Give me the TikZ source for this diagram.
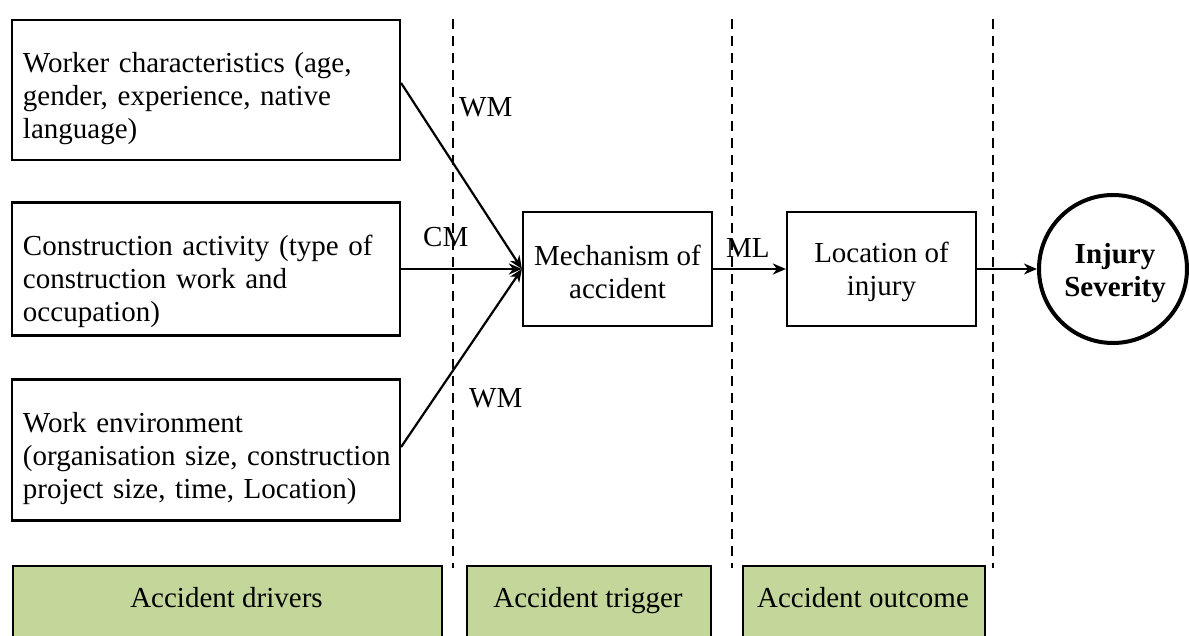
\documentclass[tikz,border=0pt]{standalone}
\usepackage{fontspec}
\setmainfont{Liberation Serif}
\usetikzlibrary{arrows.meta,calc}
\definecolor{lgreen}{HTML}{C4D79B}
\begin{document}
\begin{tikzpicture}[x=1pt,y=-1pt,
  every node/.style={font=\fontsize{29}{33}\selectfont, inner sep=0pt},
  factor/.style={draw, line width=2.2pt, minimum width=388pt},
  ftext/.style={text width=372pt, align=left},
  midbox/.style={draw, line width=2.2pt, minimum width=189pt, minimum height=114pt},
  band/.style={draw, line width=2.2pt, fill=lgreen, minimum height=85pt, anchor=north west},
  divider/.style={line width=2pt, dash pattern=on 10pt off 7pt},
  link/.style={line width=2.2pt, -{Stealth[length=13pt,width=11pt,inset=4pt]}},
  lbl/.style={anchor=west}]
\useasboundingbox (0,0) rectangle (1189,636);
% dashed dividers
\draw[divider] (453,19) -- (453,568);
\draw[divider] (732,19) -- (732,568);
\draw[divider] (993,19) -- (993,568);
% factor boxes
\node[factor, minimum height=140pt] (w) at (206,90) {};
\node[factor, minimum height=133pt] (c) at (206,269) {};
\node[factor, minimum height=141pt] (e) at (206,450) {};
\node[ftext] (wt) at (209,99) {Worker characteristics (age,\\gender, experience, native\\language)};
\node[ftext] (ct) at (209,281) {Construction activity (type of\\construction work and\\occupation)};
\node[ftext] (et) at (209,459) {Work environment\\(organisation size, construction\\project size, time, Location)};
% middle boxes
\node[midbox] (m) at (617.5,269) {};
\node[midbox] (l) at (881.5,269) {};
\node[align=center] (mt) at (617.5,272) {Mechanism of\\accident};
\node[align=center] (lt) at (881.5,272) {Location of\\injury};
\node[draw, circle, line width=4pt, minimum size=148pt] (s) at (1113,269) {};
\node[align=center, font=\fontsize{29}{33}\selectfont\bfseries] (st) at (1115,273) {Injury\\Severity};
% connectors
\draw[link] ([yshift=7pt]w.east) -- (m.west);
\draw[link] (c.east) -- (m.west);
\draw[link] ([yshift=3pt]e.east) -- (m.west);
\draw[link] (m.east) -- (l.west);
\draw[link] (l.east) -- (s.west);
% labels
\node[lbl] (wm1) at (459,107) {WM};
\node[lbl] (cm) at (423,237) {CM};
\node[lbl] (wm2) at (469,398) {WM};
\node[lbl] (ml) at (726,248) {ML};
% bottom bands
\node[band, minimum width=429pt] (g1) at (12,565) {};
\node[band, minimum width=244pt] (g2) at (466,565) {};
\node[band, minimum width=242pt] (g3) at (742,565) {};
\node[anchor=base] (b1) at (226.5,607) {Accident drivers};
\node[anchor=base] (b2) at (588,607) {Accident trigger};
\node[anchor=base] (b3) at (863,607) {Accident outcome};
\end{tikzpicture}
\end{document}
